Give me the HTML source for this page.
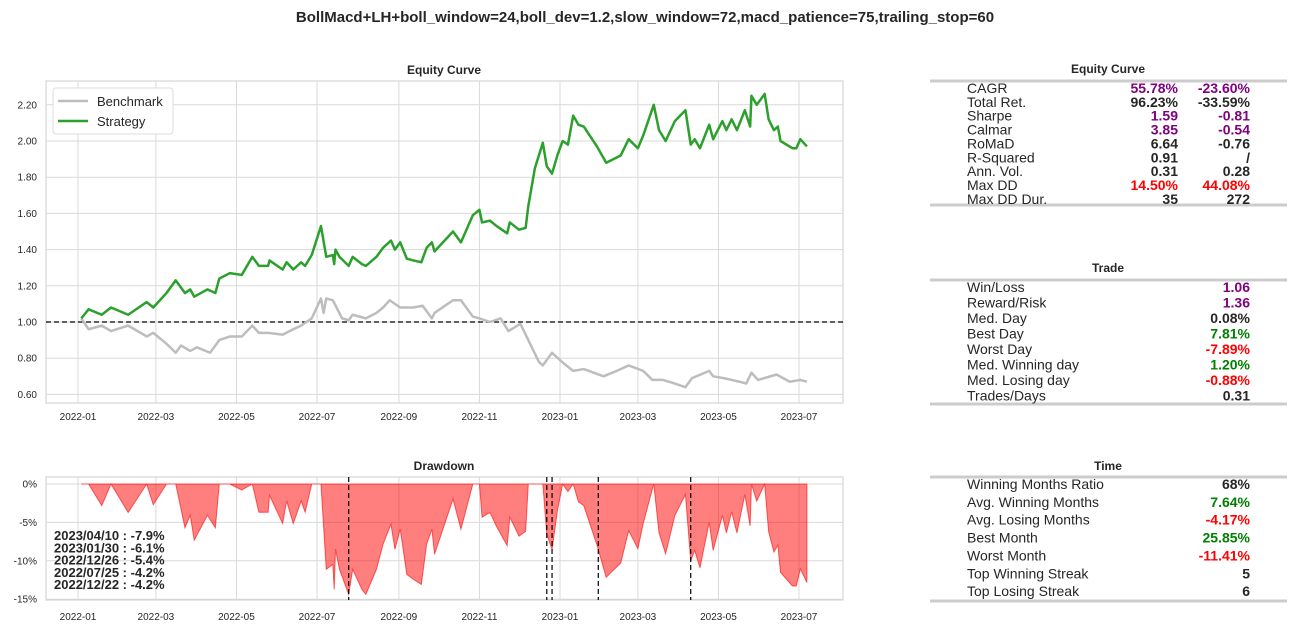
<!DOCTYPE html>
<html><head><meta charset="utf-8"><style>
body{margin:0;background:#fff;font-family:"Liberation Sans",Arial,sans-serif}
svg text{font-family:"Liberation Sans",Arial,sans-serif}
</style></head><body>
<svg id="fig" width="1295" height="631" viewBox="0 0 1295 631" xmlns="http://www.w3.org/2000/svg">
<rect width="1295" height="631" fill="#fff"/>
<text x="645" y="22" text-anchor="middle" font-size="15" font-weight="bold" fill="#262626">BollMacd+LH+boll_window=24,boll_dev=1.2,slow_window=72,macd_patience=75,trailing_stop=60</text>
<g id="eq"></g>
<g id="dd"></g>
<g id="tables"></g>
</svg>
<script>
// day offsets since 2022-01-01
const stratDays=[2.5,8,18,25,38,52,57,67,74,81,85,88,98,104,107,115,124,132,137,144,145,155,158,163,169,172,177,184,188,193,194,195,198,205,208,215,218,226,231,237,240,244,249,254,260,264,268,270,284,290,299,304,306,312,317,325,327,334,339,341,346,349,352,355,359,363,367,371,375,379,383,393,400,411,417,424,428,436,440,445,452,460,464,467,471,478,481,488,491,495,499,505,509,510,514,520,523,527,530,532,541,544,547,552];
const stratVals=[1.02,1.07,1.04,1.08,1.04,1.11,1.08,1.16,1.23,1.16,1.18,1.14,1.18,1.16,1.24,1.27,1.26,1.36,1.31,1.31,1.34,1.29,1.33,1.29,1.33,1.31,1.37,1.53,1.36,1.37,1.32,1.40,1.36,1.31,1.36,1.32,1.31,1.36,1.41,1.45,1.40,1.44,1.35,1.34,1.33,1.41,1.44,1.39,1.50,1.44,1.59,1.62,1.55,1.56,1.53,1.49,1.55,1.51,1.52,1.64,1.85,1.92,1.99,1.86,1.82,1.92,2.00,1.98,2.14,2.09,2.08,1.97,1.88,1.92,2.01,1.96,2.03,2.20,2.06,2.00,2.11,2.17,1.98,2.01,1.96,2.09,2.01,2.11,2.06,2.12,2.06,2.17,2.08,2.25,2.20,2.26,2.12,2.06,2.08,2.00,1.96,1.96,2.01,1.97];
const benchDays=[2.5,8,18,25,38,52,57,67,74,78,85,90,100,107,115,124,132,137,144,155,163,169,177,184,186,188,193,200,205,208,218,226,231,236,244,254,261,268,270,282,284,290,299,304,312,320,326,335,341,349,352,359,368,375,383,398,408,417,428,435,443,452,460,465,478,481,489,501,506,510,515,529,539,547,552];
const benchVals=[1.02,0.96,0.98,0.95,0.98,0.92,0.94,0.88,0.83,0.87,0.84,0.86,0.83,0.90,0.92,0.92,0.98,0.94,0.94,0.93,0.96,0.98,1.02,1.13,1.05,1.13,1.12,1.02,1.01,1.04,1.02,1.05,1.08,1.12,1.08,1.08,1.09,1.02,1.05,1.11,1.12,1.12,1.03,1.02,1.00,1.02,0.95,0.99,0.90,0.78,0.76,0.83,0.77,0.73,0.74,0.70,0.73,0.76,0.73,0.68,0.68,0.66,0.64,0.69,0.73,0.70,0.69,0.67,0.66,0.72,0.68,0.71,0.67,0.68,0.67];
const eqTicks=[0.60,0.80,1.00,1.20,1.40,1.60,1.80,2.00,2.20];
const ddTicks=[0,-5,-10,-15];
const monthLabels=["2022-01","2022-03","2022-05","2022-07","2022-09","2022-11","2023-01","2023-03","2023-05","2023-07"];
const monthDays=[0,59,120,181,243,304,365,424,485,546];
const worstDDLabels=["2023/04/10 : -7.9%","2023/01/30 : -6.1%","2022/12/26 : -5.4%","2022/07/25 : -4.2%","2022/12/22 : -4.2%"];
const worstDDDays=[464,394,359,205,355];

const NS="http://www.w3.org/2000/svg";
function el(tag,attrs,parent,txt){const e=document.createElementNS(NS,tag);for(const k in attrs)e.setAttribute(k,attrs[k]);if(txt!==undefined)e.textContent=txt;parent.appendChild(e);return e;}
const X0=46,X1=843;
const xs=d=>78+d*1.3205;
const yEq=v=>322-(v-1)*181;
const yDD=p=>484+(-p)*7.68;

// Equity chart
const eq=document.getElementById('eq');
let r=el('rect',{x:X0,y:81,width:X1-X0,height:322,fill:'#fff',stroke:'#ccc','stroke-width':1},eq);


eqTicks.forEach(v=>{
  let l=el('line',{x1:X0,x2:X1,y1:yEq(v),y2:yEq(v),stroke:'#d9d9d9'},eq);
  
  
  let t=el('text',{x:X0-9,y:yEq(v)+3.5,'font-size':10,'text-anchor':'end',fill:'#262626'},eq,v.toFixed(2));
  
  
});
monthDays.forEach((d,i)=>{
  let l=el('line',{x1:xs(d),x2:xs(d),y1:81,y2:403,stroke:'#d9d9d9'},eq);
  
  
  let t=el('text',{x:xs(d),y:420,'font-size':10,'text-anchor':'middle',fill:'#262626'},eq,monthLabels[i]);
  
  
});
let base=el('line',{x1:X0,x2:X1,y1:yEq(1),y2:yEq(1),stroke:'#000','stroke-width':1.2,'stroke-dasharray':'5,3'},eq);


let bp=el('polyline',{points:benchDays.map((d,i)=>xs(d)+','+yEq(benchVals[i])).join(' '),fill:'none',stroke:'#bdbdbd','stroke-width':2.5,'stroke-linejoin':'round'},eq);


let sp=el('polyline',{points:stratDays.map((d,i)=>xs(d)+','+yEq(stratVals[i])).join(' '),fill:'none',stroke:'#2ca02c','stroke-width':2.5,'stroke-linejoin':'round'},eq);


let et=el('text',{x:444,y:74,'font-size':12,'font-weight':'bold','text-anchor':'middle',fill:'#262626'},eq,'Equity Curve');


let lg=el('g',{},eq);


el('rect',{x:53,y:88,width:120,height:46,fill:'#fff',stroke:'#ddd',rx:3},lg);
el('line',{x1:58,x2:88,y1:101,y2:101,stroke:'#bdbdbd','stroke-width':2.5},lg);
el('line',{x1:58,x2:88,y1:121,y2:121,stroke:'#2ca02c','stroke-width':2.5},lg);
let l1=el('text',{x:97,y:106,'font-size':13,fill:'#262626'},lg,'Benchmark');


let l2=el('text',{x:97,y:126,'font-size':13,fill:'#262626'},lg,'Strategy');



// Drawdown chart
const dd=document.getElementById('dd');
let r2=el('rect',{x:X0,y:477,width:X1-X0,height:123,fill:'#fff',stroke:'#ccc'},dd);


ddTicks.forEach(p=>{
  let l=el('line',{x1:X0,x2:X1,y1:yDD(p),y2:yDD(p),stroke:'#d9d9d9'},dd);
  
  
  let t=el('text',{x:X0-9,y:yDD(p)+3.5,'font-size':10,'text-anchor':'end',fill:'#262626'},dd,p+'%');
  
  
});
monthDays.forEach((d,i)=>{
  let l=el('line',{x1:xs(d),x2:xs(d),y1:477,y2:600,stroke:'#d9d9d9'},dd);
  
  
  let t=el('text',{x:xs(d),y:620,'font-size':10,'text-anchor':'middle',fill:'#262626'},dd,monthLabels[i]);
  
  
});
let peak=0,pts=[];
stratDays.forEach((d,i)=>{peak=Math.max(peak,stratVals[i]);const p=(stratVals[i]/peak-1)*100;pts.push(xs(d)+','+yDD(p));});
const ap=xs(stratDays[0])+','+yDD(0)+' '+pts.join(' ')+' '+xs(stratDays[stratDays.length-1])+','+yDD(0);
let area=el('polygon',{points:ap,fill:'rgba(255,0,0,0.5)',stroke:'rgba(255,0,0,0.6)','stroke-width':1},dd);


worstDDDays.forEach(d=>{
  let l=el('line',{x1:xs(d),x2:xs(d),y1:477,y2:600,stroke:'#000','stroke-width':1.2,'stroke-dasharray':'5,3'},dd);
  
  
});
worstDDLabels.forEach((s,i)=>{
  let t=el('text',{x:54,y:540+i*12.3,'font-size':13,'font-weight':'bold',fill:'#262626'},dd,s);
  
  
});
let dt=el('text',{x:444,y:470,'font-size':12,'font-weight':'bold','text-anchor':'middle',fill:'#262626'},dd,'Drawdown');



// Tables
const P='#800080',G='#008000',R='#ff0000',K='#262626';
const tb=document.getElementById('tables');
function table(title,ty,top,bot,rows,step,two){
  let g=el('g',{},tb);
  
  
  el('text',{x:1108,y:ty,'font-size':12,'font-weight':'bold','text-anchor':'middle',fill:K},g,title);
  el('line',{x1:930,x2:1287,y1:top,y2:top,stroke:'#ccc','stroke-width':3},g);
  el('line',{x1:930,x2:1287,y1:bot,y2:bot,stroke:'#ccc','stroke-width':3},g);
  rows.forEach((rw,i)=>{
    const y=top+12+i*step;
    let t=el('text',{x:967,y:y,'font-size':14,fill:K},g,rw[0]);
    
    
    if(two){
      el('text',{x:1178,y:y,'font-size':14,'font-weight':'bold','text-anchor':'end',fill:rw[2]},g,rw[1]);
      el('text',{x:1250,y:y,'font-size':14,'font-weight':'bold','text-anchor':'end',fill:rw[4]},g,rw[3]);
    } else {
      el('text',{x:1250,y:y,'font-size':14,'font-weight':'bold','text-anchor':'end',fill:rw[2]},g,rw[1]);
    }
  });
}
table('Equity Curve',73,81,205,[
 ['CAGR','55.78%',P,'-23.60%',P],['Total Ret.','96.23%',K,'-33.59%',K],['Sharpe','1.59',P,'-0.81',P],
 ['Calmar','3.85',P,'-0.54',P],['RoMaD','6.64',K,'-0.76',K],['R-Squared','0.91',K,'/',K],
 ['Ann. Vol.','0.31',K,'0.28',K],['Max DD','14.50%',R,'44.08%',R],['Max DD Dur.','35',K,'272',K]],13.85,true);
table('Trade',272,280,404,[
 ['Win/Loss','1.06',P],['Reward/Risk','1.36',P],['Med. Day','0.08%',K],['Best Day','7.81%',G],
 ['Worst Day','-7.89%',R],['Med. Winning day','1.20%',G],['Med. Losing day','-0.88%',R],['Trades/Days','0.31',K]],15.5,false);
table('Time',470,477,601,[
 ['Winning Months Ratio','68%',K],['Avg. Winning Months','7.64%',G],['Avg. Losing Months','-4.17%',R],
 ['Best Month','25.85%',G],['Worst Month','-11.41%',R],['Top Winning Streak','5',K],['Top Losing Streak','6',K]],17.85,false);
</script>
</body></html>
